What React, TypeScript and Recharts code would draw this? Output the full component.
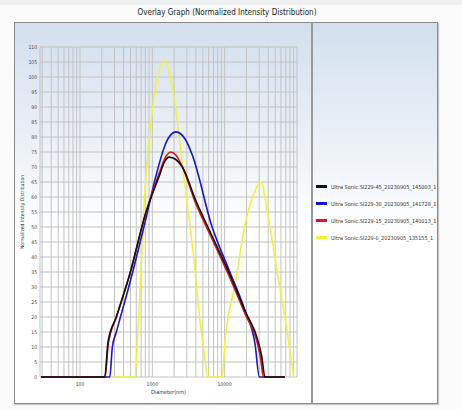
import { LineChart, Line, XAxis, YAxis, CartesianGrid, Legend, Label } from 'recharts';

// Diameter (nm) / normalized intensity
const blackSizes = [29, 220, 244, 318, 484, 819, 1247, 1459, 1709, 2110, 2604, 3962, 6703, 11340, 19180, 29240, 32470, 36070, 67770];
const blackValues = [0, 0, 11.7, 20, 34, 55, 67, 71.5, 73.3, 72.5, 70, 59, 47, 35, 22, 11.7, 7, 0, 0];

const blueSizes = [29, 258, 280, 318, 484, 819, 1122, 1540, 2110, 2892, 3570, 6703, 11340, 19180, 26300, 30150, 67770];
const blueValues = [0, 0, 10, 15, 31, 53, 67, 78, 81.7, 79, 74, 50, 36, 22, 11, 0, 0];

const redSizes = [29, 222, 246, 318, 484, 819, 1247, 1540, 1802, 2110, 2604, 3962, 6703, 11340, 19180, 28500, 31500, 34210, 67770];
const redValues = [0, 0, 11, 20, 34, 55, 68, 73.5, 75, 74, 70, 58, 46, 34, 21, 11, 6, 0, 0];

const yellowSizes = [286, 566, 664, 777, 1011, 1459, 2110, 2604, 3213, 3761, 4402, 5433, 5726, 9186, 10210, 13990, 19180, 26300, 31470, 40080, 54950, 75330, 90000];
const yellowValues = [0, 0, 25.5, 59, 90, 105.5, 89, 71, 53, 39, 22, 4.4, 0, 0, 13, 31, 51, 62, 65, 53, 33, 13, 0];

const seriesNames = [
  'Ultra Sonic:SI229-45_20230905_145003_1',
  'Ultra Sonic:SI229-30_20230905_141728_1',
  'Ultra Sonic:SI229-15_20230905_140013_1',
  'Ultra Sonic:SI229-0_20230905_135155_1',
];

const xTicks = [
  30, 40, 50, 60, 70, 80, 90,
  100, 200, 300, 400, 500, 600, 700, 800, 900,
  1000, 2000, 3000, 4000, 5000, 6000, 7000, 8000, 9000,
  10000, 20000, 30000, 40000, 50000, 60000, 70000, 80000, 90000, 100000,
];
const xLabels = [100, 1000, 10000];
const yTicks = [0, 5, 10, 15, 20, 25, 30, 35, 40, 45, 50, 55, 60, 65, 70, 75, 80, 85, 90, 95, 100, 105, 110];

const toPoints = (sizes: number[], values: number[]) => sizes.map((d, i) => ({ d, v: values[i] }));

const FONT = '"Liberation Sans Narrow", "DejaVu Sans Condensed", "Liberation Sans", sans-serif';

// legend order matches the instrument's: black, blue, red, yellow
const legendItems = [
  { name: seriesNames[0], color: '#111111' },
  { name: seriesNames[1], color: '#1414d8' },
  { name: seriesNames[2], color: '#e01414' },
  { name: seriesNames[3], color: '#f2f23a' },
];

const LegendBox = () => (
  <div style={{ fontFamily: FONT, fontSize: 5.5, color: '#333' }}>
    {legendItems.map((it) => (
      <div key={it.name} style={{ display: 'flex', alignItems: 'center', height: 17 }}>
        <span style={{ display: 'inline-block', width: 11, height: 2.5, background: it.color, marginRight: 4 }} />
        <span style={{ whiteSpace: 'nowrap' }}>{it.name}</span>
      </div>
    ))}
  </div>
);

export default function App() {
  return (
    <div style={{ position: 'fixed', left: 0, top: 0, width: 462, height: 409, background: '#fbfbfb', overflow: 'hidden' }}>
      <div style={{ position: 'absolute', left: 0, top: 0, width: 462, height: 5, background: '#eef0f2' }} />
      <div
        style={{
          position: 'absolute', left: 0, top: 8, width: 454, textAlign: 'center',
          fontFamily: FONT, fontSize: 8, color: '#222',
        }}
      >
        Overlay Graph (Normalized Intensity Distribution)
      </div>
      {/* frame with gradient, divider between plot and legend */}
      <div
        style={{
          position: 'absolute', left: 14, top: 22, width: 422, height: 380,
          border: '1px solid #8a8a8a', boxShadow: '1px 1px 1px #c8c8c8',
          background: 'linear-gradient(to bottom, #d3dfee 0%, #eaf0f7 30%, #ffffff 55%, #ffffff 100%)',
        }}
      />
      <div style={{ position: 'absolute', left: 311, top: 22, width: 2, height: 382, background: '#9a9a9a' }} />

      <div style={{ position: 'absolute', left: 0, top: 0 }}>
        <LineChart width={462} height={409} margin={{ top: 47, right: 165, bottom: 16, left: 20 }}>
          <CartesianGrid stroke="#c2c2c2" strokeWidth={1} />
          <XAxis
            type="number"
            dataKey="d"
            scale="log"
            domain={[28, 100000]}
            ticks={xTicks}
            allowDataOverflow
            interval={0}
            height={16}
            tickLine={false}
            axisLine={false}
            tickSize={3}
            tickMargin={2}
            tick={{ fontSize: 5, fill: '#444', fontFamily: FONT }}
            tickFormatter={(v: number) => (xLabels.includes(v) ? String(v) : '')}
          >
            <Label value="Diameter(nm)" position="insideBottom" offset={-1} style={{ fontSize: 5.5, fill: '#333', fontFamily: FONT }} />
          </XAxis>
          <YAxis
            type="number"
            dataKey="v"
            domain={[0, 110]}
            ticks={yTicks}
            interval={0}
            width={20}
            tickLine={false}
            axisLine={false}
            tickSize={3}
            tickMargin={0}
            tick={{ fontSize: 5, fill: '#444', fontFamily: FONT }}
          >
            <Label
              value="Normalized Intensity Distribution"
              angle={-90}
              position="insideLeft"
              offset={2}
              style={{ textAnchor: 'middle', fontSize: 5, fill: '#333', fontFamily: FONT }}
            />
          </YAxis>
          <Legend layout="vertical" align="center" verticalAlign="middle" content={<LegendBox />} wrapperStyle={{ left: 316, top: 178, width: 125 }} />
          <Line type="monotone" data={toPoints(yellowSizes, yellowValues)} dataKey="v" name={seriesNames[3]} stroke="#f2f23a" strokeWidth={1.6} dot={false} isAnimationActive={false} />
          <Line type="monotone" data={toPoints(blueSizes, blueValues)} dataKey="v" name={seriesNames[1]} stroke="#1414d8" strokeWidth={1.6} dot={false} isAnimationActive={false} />
          <Line type="monotone" data={toPoints(redSizes, redValues)} dataKey="v" name={seriesNames[2]} stroke="#e01414" strokeWidth={1.6} dot={false} isAnimationActive={false} />
          <Line type="monotone" data={toPoints(blackSizes, blackValues)} dataKey="v" name={seriesNames[0]} stroke="#111111" strokeWidth={1.6} dot={false} isAnimationActive={false} />
        </LineChart>
      </div>
    </div>
  );
}
